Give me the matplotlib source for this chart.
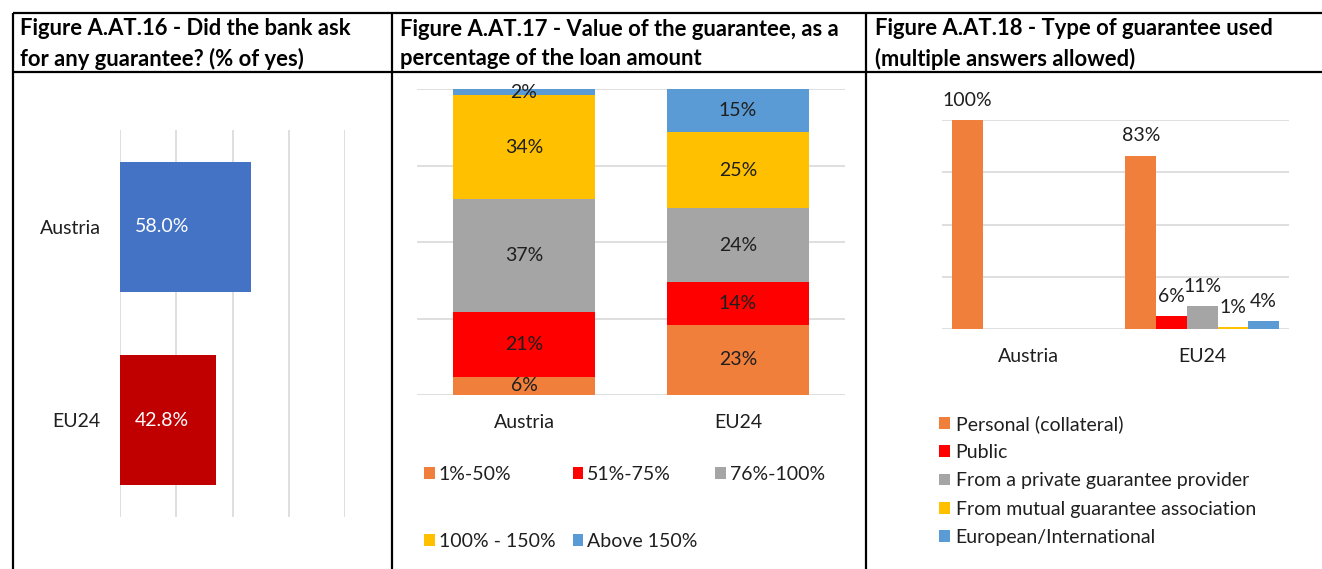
import matplotlib
matplotlib.use('Agg')
import matplotlib.pyplot as plt
import numpy as np

plt.rcParams['font.family'] = ['Lato', 'DejaVu Sans']

W, H = 1322, 569

# ---------- data ----------
titles = ['Figure A.AT.16 - Did the bank ask\nfor any guarantee? (% of yes)',
          'Figure A.AT.17 - Value of the guarantee, as a\npercentage of the loan amount',
          'Figure A.AT.18 - Type of guarantee used\n(multiple answers allowed)']

countries = ['Austria', 'EU24']

# fig 16
ask_yes = [58.0, 42.8]
ask_colors = ['#4472C4', '#C00000']

# fig 17
value_bands = ['1%-50%', '51%-75%', '76%-100%', '100% - 150%', 'Above 150%']
value_austria = [6, 21, 37, 34, 2]
value_eu24 = [23, 14, 24, 25, 15]

# fig 18
types = ['Personal (collateral)', 'Public', 'From a private guarantee provider',
         'From mutual guarantee association', 'European/International']
type_austria = [100, 0, 0, 0, 0]
type_eu24 = [83, 6, 11, 1, 4]

cols5 = ['#F07F3C', '#FF0000', '#A5A5A5', '#FFC000', '#5B9BD5']
GRID = '#D9D9D9'
TXT = '#1f1f1f'
FS = 14


def px_axes(fig, x0, y0, x1, y1):
    """axes from pixel box (top-left origin)"""
    return fig.add_axes([x0 / W, 1 - y1 / H, (x1 - x0) / W, (y1 - y0) / H])


fig = plt.figure(figsize=(W / 100, H / 100), dpi=100)

# ---------- table frame ----------
bg = fig.add_axes([0, 0, 1, 1], zorder=-1)
bg.set_xlim(0, W)
bg.set_ylim(H, 0)
bg.axis('off')
bg.hlines([13, 72], 13, W, color='black', lw=1.6)
bg.vlines([13, 392, 866], 13, H, color='black', lw=1.6)
for x, t in zip([20, 400, 875], titles):
    bg.text(x, 44, t, fontsize=15.8, fontweight='bold', va='center', ha='left',
            linespacing=1.45, color='black')

# ---------- fig 16: horizontal bars ----------
ax1 = px_axes(fig, 120, 130, 345, 517)
y = np.arange(len(countries))
ax1.barh(y, ask_yes, height=0.67, color=ask_colors, zorder=2)
ax1.set_xlim(0, 100)
ax1.set_ylim(1.5, -0.5)
ax1.set_xticks([0, 25, 50, 75, 100])
ax1.xaxis.grid(True, color=GRID, lw=1.2)
ax1.set_axisbelow(True)
ax1.tick_params(axis='x', labelbottom=False, length=0)
ax1.set_yticks(y, countries)
ax1.tick_params(axis='y', length=0, pad=14, labelsize=FS, labelcolor=TXT)
for s in ax1.spines.values():
    s.set_visible(False)
for yi, v in zip(y, ask_yes):
    ax1.annotate(f'{v:.1f}%', (0, yi), xytext=(11, 0), textcoords='offset points',
                 ha='left', va='center', color='white', fontsize=FS)

# ---------- fig 17: stacked bars ----------
ax2 = px_axes(fig, 417, 89, 845, 395)
x = np.arange(len(countries))
bottom = np.zeros(len(countries))
handles = []
for i, band in enumerate(value_bands):
    vals = np.array([value_austria[i], value_eu24[i]], dtype=float)
    b = ax2.bar(x, vals, 0.66, bottom=bottom, color=cols5[i], label=band, zorder=2)
    ax2.bar_label(b, labels=[f'{v:.0f}%' for v in vals], label_type='center',
                  fontsize=FS, color=TXT)
    handles.append(b)
    bottom += vals
ax2.set_xlim(-0.5, 1.5)
ax2.set_ylim(0, 100)
ax2.set_yticks([0, 25, 50, 75, 100])
ax2.yaxis.grid(True, color=GRID, lw=1.2)
ax2.set_axisbelow(True)
ax2.tick_params(axis='y', labelleft=False, length=0)
ax2.set_xticks(x, countries)
ax2.tick_params(axis='x', length=0, pad=14, labelsize=FS, labelcolor=TXT)
for s in ax2.spines.values():
    s.set_visible(False)
order = [0, 3, 1, 4, 2]   # row-first like Excel
ax2.legend([handles[k] for k in order], [value_bands[k] for k in order], ncol=3,
           loc='upper left', bbox_to_anchor=(424 / W, 1 - 466 / H),
           bbox_transform=fig.transFigure, frameon=False, fontsize=FS,
           handlelength=0.55, handleheight=0.55, handletextpad=0.2,
           columnspacing=0.9, labelspacing=2.55, borderaxespad=0, borderpad=0,
           labelcolor=TXT)

# ---------- fig 18: grouped bars ----------
ax3 = px_axes(fig, 942, 120, 1289, 329)
bw = 0.177
for i, t in enumerate(types):
    vals = [type_austria[i], type_eu24[i]]
    b = ax3.bar(x + (i - 2) * bw, vals, bw, color=cols5[i], label=t, zorder=2)
    ax3.bar_label(b, labels=[f'{v}%' if v > 0 else '' for v in vals], padding=8,
                  fontsize=FS, color=TXT)
ax3.set_xlim(-0.5, 1.5)
ax3.set_ylim(0, 100)
ax3.set_yticks([0, 25, 50, 75, 100])
ax3.yaxis.grid(True, color=GRID, lw=1.2)
ax3.set_axisbelow(True)
ax3.tick_params(axis='y', labelleft=False, length=0)
ax3.set_xticks(x, countries)
ax3.tick_params(axis='x', length=0, pad=14, labelsize=FS, labelcolor=TXT)
for s in ax3.spines.values():
    s.set_visible(False)
ax3.legend(loc='upper left', bbox_to_anchor=(939 / W, 1 - 415 / H),
           bbox_transform=fig.transFigure, frameon=False, fontsize=FS,
           handlelength=0.55, handleheight=0.55, handletextpad=0.3,
           labelspacing=0.58, borderaxespad=0, borderpad=0, labelcolor=TXT)

fig.savefig('out.png', dpi=100)
